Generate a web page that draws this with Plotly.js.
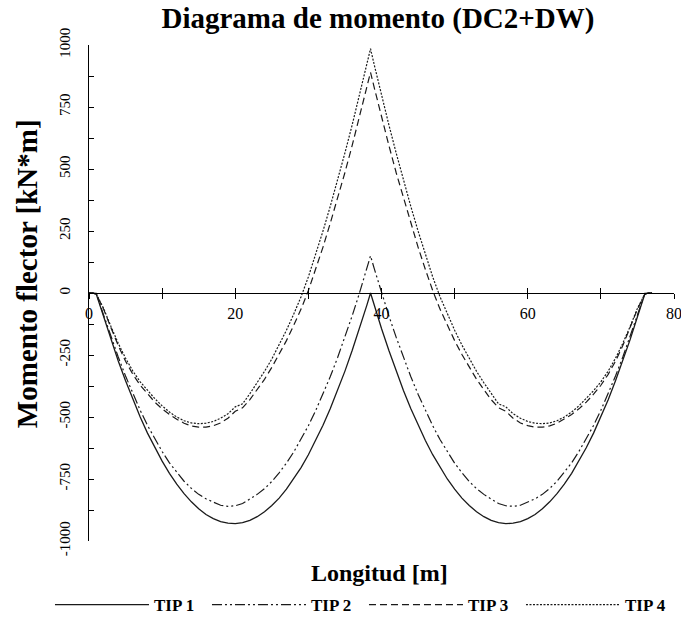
<!DOCTYPE html>
<html>
<head>
<meta charset="utf-8">
<script src="https://cdn.plot.ly/plotly-3.0.1.min.js"></script>
<style>html,body{margin:0;padding:0;background:#fff;}#chart{width:681px;height:623px;}</style>
</head>
<body>
<div id="chart"></div>
<script>
const longitud = [0,0.5,1,2,3,4,5,6,7,8,9,10,11,12,13,14,15,16,17,18,19,20,21,22,23,24,25,26,27,28,29,30,31,32,33,34,35,36,37,38,38.5,
  39,40,41,42,43,44,45,46,47,48,49,50,51,52,53,54,55,56,57,58,59,60,61,62,63,64,65,66,67,68,69,70,71,72,73,74,75,76,76.5,77];

const tip1 = [0,0,-5,-96,-188,-274,-354,-430,-500,-565,-624,-678,-727,-771,-809,-842,-870,-893,-910,-922,-928,-930,-926,-917,-902,-882,-857,-827,-791,-750,-704,-652,-595,-533,-466,-393,-315,-231,-143,-49,0,
  -49,-143,-231,-315,-393,-466,-533,-595,-652,-704,-750,-791,-827,-857,-882,-902,-917,-926,-930,-928,-922,-910,-893,-870,-842,-809,-771,-727,-678,-624,-565,-500,-430,-354,-274,-188,-96,-5,0,0];

const tip2 = [0,0,-1,-89,-176,-258,-335,-406,-473,-534,-589,-639,-685,-724,-759,-788,-812,-830,-844,-856,-860,-858,-849,-831,-812,-789,-760,-725,-686,-641,-591,-535,-474,-408,-337,-260,-178,-91,1,99,150,
  99,1,-91,-178,-260,-337,-408,-474,-535,-591,-641,-686,-725,-760,-789,-812,-831,-849,-858,-860,-856,-844,-830,-812,-788,-759,-724,-685,-639,-589,-534,-473,-406,-335,-258,-176,-89,-1,0,0];

const tip3 = [0,0,-5,-65,-140,-212,-275,-328,-372,-408,-440,-467,-490,-509,-525,-536,-541,-541,-535,-524,-505,-477,-463,-430,-390,-348,-300,-248,-192,-130,-65,10,95,185,282,382,486,596,710,829,890,
  829,710,596,486,382,282,185,95,10,-65,-130,-192,-248,-300,-348,-390,-430,-463,-477,-505,-524,-535,-541,-541,-536,-525,-509,-490,-467,-440,-408,-372,-328,-275,-212,-140,-65,-5,0,0];

const tip4 = [0,0,-5,-62,-135,-203,-263,-315,-358,-394,-426,-455,-480,-500,-515,-524,-527,-525,-518,-505,-487,-459,-447,-406,-362,-316,-266,-210,-150,-85,-15,65,155,250,350,455,565,679,797,921,985,
  921,797,679,565,455,350,250,155,65,-15,-85,-150,-210,-266,-316,-362,-406,-447,-459,-487,-505,-518,-525,-527,-524,-515,-500,-480,-455,-426,-394,-358,-315,-263,-203,-135,-62,-5,0,0];

const seriesNames = ['TIP 1','TIP 2','TIP 3','TIP 4'];
const xTickVals = [0,20,40,60,80];
const yTickVals = [-1000,-750,-500,-250,0,250,500,750,1000];

const serif = 'Liberation Serif, Times New Roman, serif';
const lineColor = '#1a1a1a';

const traces = [
  {x: longitud, y: tip1, name: seriesNames[0], mode: 'lines', line: {color: lineColor, width: 1.3, dash: 'solid'}},
  {x: longitud, y: tip2, name: seriesNames[1], mode: 'lines', line: {color: lineColor, width: 1.2, dash: '10px,3px,2px,3px,2px,3px'}},
  {x: longitud, y: tip3, name: seriesNames[2], mode: 'lines', line: {color: lineColor, width: 1.2, dash: '7px,4px'}},
  {x: longitud, y: tip4, name: seriesNames[3], mode: 'lines', xaxis: 'x2', line: {color: lineColor, width: 1.2, dash: '2px,1.5px'}}
];

const layout = {
  width: 681, height: 623,
  margin: {l: 89, r: 7, t: 45, b: 82, autoexpand: false},
  paper_bgcolor: '#fff', plot_bgcolor: '#fff',
  font: {family: serif, color: '#000', size: 15},
  showlegend: true,
  title: {text: '<b>Diagrama de momento (DC2+DW)</b>', font: {family: serif, size: 29, color: '#000'},
          x: 0.555, xref: 'container', xanchor: 'center', y: 0.972, yref: 'container', yanchor: 'middle'},
  xaxis: {
    range: [0, 80], anchor: 'free', position: 0.5,
    showline: true, linecolor: '#000', linewidth: 1.3,
    showgrid: false, zeroline: false,
    tickvals: xTickVals, ticktext: xTickVals.map(String),
    ticks: 'outside', ticklen: 5, tickwidth: 1, tickcolor: '#000',
    minor: {dtick: 10, tick0: 0, ticks: 'outside', ticklen: 5, tickwidth: 1, tickcolor: '#000', showgrid: false},
    tickfont: {family: serif, size: 16, color: '#000'},
    ticklabeloverflow: 'allow',
    fixedrange: true
  },
  xaxis2: {
    range: [0, 80], overlaying: 'x', anchor: 'free', position: 0.5,
    showline: false, showgrid: false, zeroline: false, showticklabels: false,
    tickvals: xTickVals,
    ticks: 'inside', ticklen: 5, tickwidth: 1, tickcolor: '#000',
    minor: {dtick: 10, tick0: 0, ticks: 'inside', ticklen: 5, tickwidth: 1, tickcolor: '#000', showgrid: false}
  },
  yaxis: {
    range: [-1000, 1000], anchor: 'x',
    showline: true, linecolor: '#000', linewidth: 1.3,
    showgrid: false, zeroline: false,
    tickvals: yTickVals, ticktext: yTickVals.map(String),
    ticks: 'inside', ticklen: 5, tickwidth: 1, tickcolor: '#000',
    minor: {dtick: 125, tick0: 0, ticks: 'inside', ticklen: 5, tickwidth: 1, tickcolor: '#000', showgrid: false},
    tickangle: -90, ticklabelstandoff: 12,
    tickfont: {family: serif, size: 15, color: '#000'}
  },
  legend: {
    orientation: 'h', x: -0.0667, xanchor: 'left', y: -0.129, yanchor: 'middle',
    entrywidth: 48, entrywidthmode: 'pixels', itemwidth: 94,
    font: {family: serif, size: 17, color: '#000', weight: 'bold'},
    bgcolor: 'rgba(0,0,0,0)'
  },
  annotations: [
    {text: '<b>Momento flector [kN*m]</b>', textangle: -90, xref: 'paper', yref: 'paper',
     x: -0.106, y: 0.54, xanchor: 'center', yanchor: 'middle', showarrow: false,
     font: {family: serif, size: 29, color: '#000'}},
    {text: '<b>Longitud [m]</b>', xref: 'paper', yref: 'paper',
     x: 0.497, y: -0.0645, xanchor: 'center', yanchor: 'middle', showarrow: false,
     font: {family: serif, size: 24, color: '#000'}}
  ]
};

Plotly.newPlot('chart', traces, layout, {staticPlot: true, displayModeBar: false});
</script>
</body>
</html>
